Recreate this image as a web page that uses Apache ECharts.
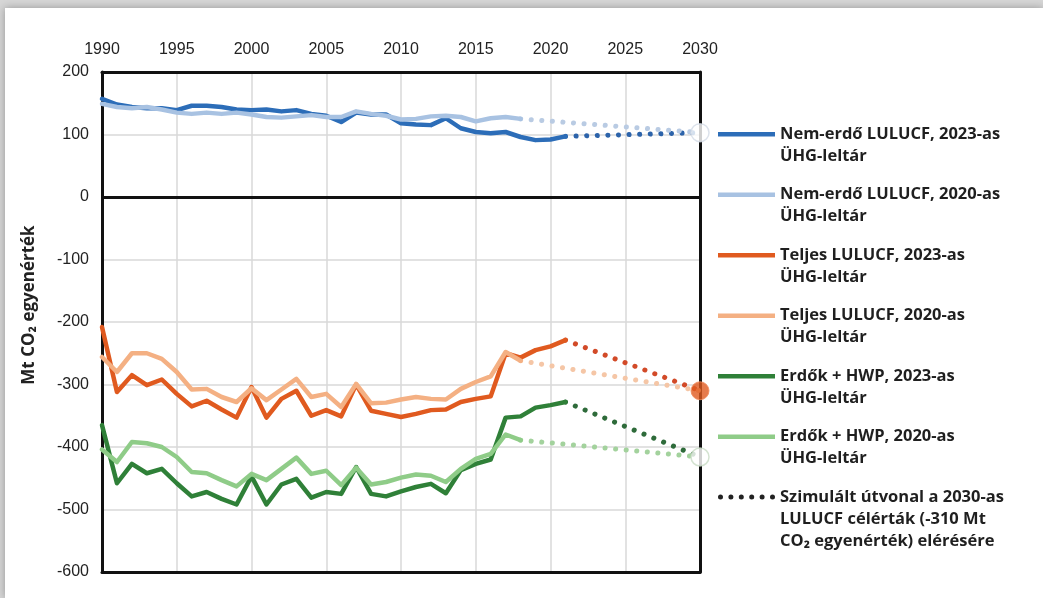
<!DOCTYPE html>
<html lang="hu">
<head>
<meta charset="utf-8">
<title>LULUCF nettó elnyelés</title>
<script src="https://cdn.jsdelivr.net/npm/echarts@6/dist/echarts.min.js"></script>
<style>
  html, body { margin: 0; padding: 0; width: 1043px; height: 598px; overflow: hidden; background: #d6d6d6; }
  #chart { position: absolute; left: 5px; top: 8px; width: 1038px; height: 590px; background: #fff;
           box-shadow: 0 0 8px rgba(0,0,0,0.3); }
</style>
</head>
<body>
<div id="chart"></div>
<script>
// Years of the two inventory submissions
const years2023 = [1990,1991,1992,1993,1994,1995,1996,1997,1998,1999,2000,2001,2002,2003,2004,2005,
                   2006,2007,2008,2009,2010,2011,2012,2013,2014,2015,2016,2017,2018,2019,2020,2021];
const years2020 = [1990,1991,1992,1993,1994,1995,1996,1997,1998,1999,2000,2001,2002,2003,2004,2005,
                   2006,2007,2008,2009,2010,2011,2012,2013,2014,2015,2016,2017,2018];

// Mt CO2 equivalent
const nonForest2023 = [157,148,144,142,142,139,146,146,144,140,139,140,137,139,133,130,
                       120,135,132,132,118,116,115,126,110,104,102,104,96,91,92,97];
const nonForest2020 = [149,144,142,144,140,135,133,135,133,135,132,128,127,129,131,128,
                       128,137,133,130,124,125,129,130,128,121,126,128,125];
const total2023 = [-208,-312,-285,-301,-292,-315,-335,-326,-340,-353,-304,-353,-323,-310,-350,-341,
                   -351,-300,-342,-347,-352,-347,-341,-340,-328,-323,-319,-250,-257,-245,-239,-229];
const total2020 = [-256,-280,-250,-250,-259,-280,-308,-307,-320,-328,-306,-325,-308,-291,-320,-315,
                   -336,-299,-330,-329,-324,-320,-323,-324,-307,-296,-287,-248,-262];
const forest2023 = [-365,-458,-427,-442,-435,-458,-479,-472,-483,-492,-447,-492,-460,-451,-481,-472,
                    -475,-432,-475,-479,-471,-464,-459,-474,-437,-427,-420,-353,-351,-337,-333,-328];
const forest2020 = [-404,-424,-392,-394,-400,-416,-440,-442,-453,-463,-443,-453,-435,-417,-443,-438,
                    -461,-433,-460,-456,-449,-444,-446,-456,-435,-419,-411,-380,-389];

// 2030 end points of the simulated pathways
const targetYear = 2030;
const targetNonForest = 103;
const targetTotal = -310;
const targetForest = -416;

// Axis ticks
const xTicks = { min: 1990, max: 2030, step: 5 };
const yTicks = { min: -600, max: 200, step: 100 };

const names = {
  nf23: 'Nem-erdő LULUCF, 2023-as ÜHG-leltár',
  nf20: 'Nem-erdő LULUCF, 2020-as ÜHG-leltár',
  t23: 'Teljes LULUCF, 2023-as ÜHG-leltár',
  t20: 'Teljes LULUCF, 2020-as ÜHG-leltár',
  f23: 'Erdők + HWP, 2023-as ÜHG-leltár',
  f20: 'Erdők + HWP, 2020-as ÜHG-leltár',
  sim: 'Szimulált útvonal a 2030-as LULUCF célérták (-310 Mt CO₂ egyenérték) elérésére'
};
const legendText = {
  [names.nf23]: 'Nem-erdő LULUCF, 2023-as\nÜHG-leltár',
  [names.nf20]: 'Nem-erdő LULUCF, 2020-as\nÜHG-leltár',
  [names.t23]: 'Teljes LULUCF, 2023-as\nÜHG-leltár',
  [names.t20]: 'Teljes LULUCF, 2020-as\nÜHG-leltár',
  [names.f23]: 'Erdők + HWP, 2023-as\nÜHG-leltár',
  [names.f20]: 'Erdők + HWP, 2020-as\nÜHG-leltár',
  [names.sim]: 'Szimulált útvonal a 2030-as\nLULUCF célérták (-310 Mt\nCO₂ egyenérték) elérésére'
};

const colors = {
  nf23: '#2c6db8', nf20: '#a8c2e2',
  t23: '#e05a1f', t20: '#f4b083',
  f23: '#2f8038', f20: '#8fcc88'
};
const dotColors = {
  nf23: '#2c63aa', nf20: '#b9cbe3',
  t23: '#d24a28', t20: '#f5c6a6',
  f23: '#2e6b3a', f20: '#a3d29d'
};

const pairs = (xs, ys) => xs.map((x, i) => [x, ys[i]]);
const last = (xs, ys) => [xs[xs.length - 1], ys[ys.length - 1]];

function solid(key, xs, ys) {
  return {
    name: names[key], type: 'line', data: pairs(xs, ys), symbol: 'none',
    lineStyle: { color: colors[key], width: 4.5, cap: 'round', join: 'round' },
    itemStyle: { color: colors[key] }, z: 3
  };
}
function dotted(key, xs, ys, target) {
  return {
    name: names.sim, type: 'line', data: [last(xs, ys), [targetYear, target]], symbol: 'none',
    lineStyle: { color: dotColors[key], width: 5, type: [0.1, 10.5], cap: 'round' },
    itemStyle: { color: '#222' }, z: 2
  };
}

// Legend icons: the stroke sits level with the first text line
const linePath = 'path://M0,9 L57,9 L57,13.5 L0,13.5 Z M0,0 L0.01,0 M0,44 L0.01,44';
let dots = '';
for (let i = 0; i < 6; i++) {
  const cx = 2.5 + i * 10.4;
  dots += `M${cx - 2.5},11 a2.5,2.5 0 1,0 5,0 a2.5,2.5 0 1,0 -5,0 Z `;
}
const dotPath = 'path://' + dots + 'M0,0 L0.01,0 M0,66 L0.01,66';

const legendFont = { color: '#1f1f1f', fontSize: 16.5, fontWeight: 'bold', fontFamily: '"Open Sans", sans-serif',
                     lineHeight: 22, padding: [0, 0, 0, 0] };

const tickFont = { color: '#222', fontSize: 16, fontFamily: '"Liberation Sans", Arial, sans-serif' };
const frameLine = { show: true, lineStyle: { color: '#111', width: 3 } };
const gridLine = { show: true, lineStyle: { color: '#d9d9d9', width: 1.5 } };

const chart = echarts.init(document.getElementById('chart'), null, { renderer: 'canvas' });
chart.setOption({
  animation: false,
  grid: { left: 97, top: 64, width: 598, height: 500 },
  xAxis: [
    {
      type: 'value', position: 'top', min: xTicks.min, max: xTicks.max, interval: xTicks.step,
      axisLine: Object.assign({ onZero: false }, frameLine), axisTick: { show: false },
      axisLabel: Object.assign({ margin: 14, formatter: v => String(v) }, tickFont),
      splitLine: gridLine
    },
    {
      type: 'value', position: 'bottom', min: xTicks.min, max: xTicks.max, interval: xTicks.step,
      axisLine: Object.assign({ onZero: false }, frameLine), axisTick: { show: false },
      axisLabel: { show: false }, splitLine: { show: false }
    }
  ],
  yAxis: [
    {
      type: 'value', position: 'left', min: yTicks.min, max: yTicks.max, interval: yTicks.step,
      axisLine: Object.assign({ onZero: false }, frameLine), axisTick: { show: false },
      axisLabel: Object.assign({ margin: 13 }, tickFont),
      splitLine: gridLine
    },
    {
      type: 'value', position: 'right', min: yTicks.min, max: yTicks.max, interval: yTicks.step,
      axisLine: Object.assign({ onZero: false }, frameLine), axisTick: { show: false },
      axisLabel: { show: false }, splitLine: { show: false }
    }
  ],
  legend: [
    {
      orient: 'vertical', left: 708, top: 110, itemWidth: 57, itemHeight: 44, itemGap: 16.5,
      symbolKeepAspect: false, itemStyle: { borderWidth: 0 },
      data: [names.nf23, names.nf20, names.t23, names.t20, names.f23, names.f20].map(n => ({ name: n, icon: linePath })),
      formatter: n => legendText[n], textStyle: legendFont
    },
    {
      orient: 'vertical', left: 708, top: 473, itemWidth: 57, itemHeight: 66,
      symbolKeepAspect: false, itemStyle: { borderWidth: 0 },
      data: [{ name: names.sim, icon: dotPath, itemStyle: { color: '#222', borderWidth: 0 } }],
      formatter: n => legendText[n], textStyle: legendFont
    }
  ],
  graphic: [{
    type: 'text', x: 24, y: 297, rotation: Math.PI / 2,
    style: { text: 'Mt CO₂ egyenérték', font: 'bold 17px "Open Sans", sans-serif', fill: '#222',
             textAlign: 'center', textVerticalAlign: 'middle' }
  }],
  series: [
    Object.assign(solid('nf23', years2023, nonForest2023), {
      markLine: { silent: true, symbol: 'none', label: { show: false },
                  lineStyle: { color: '#111', width: 3, type: 'solid' }, data: [{ yAxis: 0 }] }
    }),
    solid('nf20', years2020, nonForest2020),
    solid('t23', years2023, total2023),
    solid('t20', years2020, total2020),
    solid('f23', years2023, forest2023),
    solid('f20', years2020, forest2020),
    dotted('nf23', years2023, nonForest2023, targetNonForest),
    dotted('nf20', years2020, nonForest2020, targetNonForest),
    dotted('t23', years2023, total2023, targetTotal),
    dotted('t20', years2020, total2020, targetTotal),
    dotted('f23', years2023, forest2023, targetForest),
    dotted('f20', years2020, forest2020, targetForest),
    {
      type: 'scatter', name: 'targets', symbolSize: 18, z: 5, silent: true,
      data: [
        { value: [targetYear, targetNonForest], itemStyle: { color: '#fff', borderColor: '#d3dbe6', borderWidth: 1.5 } },
        { value: [targetYear, targetTotal], itemStyle: { color: '#e05a1f', borderColor: '#f08a5a', borderWidth: 1 } },
        { value: [targetYear, targetForest], itemStyle: { color: '#fff', borderColor: '#c9dcc6', borderWidth: 1.5 } }
      ]
    }
  ]
});
</script>
</body>
</html>
